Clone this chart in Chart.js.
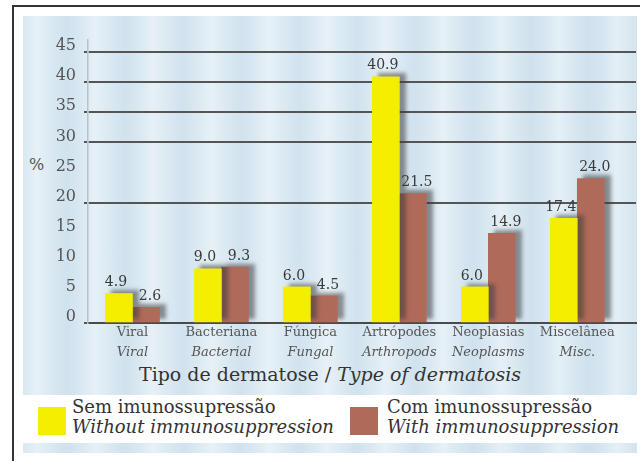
<!DOCTYPE html>
<html>
<head>
<meta charset="utf-8">
<script src="https://cdn.jsdelivr.net/npm/chart.js@4.4.1/dist/chart.umd.min.js"></script>
<style>
  html, body { margin: 0; padding: 0; background: #fff; }
  #frame { position: relative; width: 640px; height: 461px; overflow: hidden; background: #fff;
           font-family: 'DejaVu Serif', serif; }
  #rule { position: absolute; left: 12px; top: 5px; width: 640px; height: 470px;
          border-left: 2px solid #333; border-top: 2px solid #333; }
  #panel { position: absolute; left: 23px; top: 16px; width: 614px; height: 437px;
           background:
             repeating-linear-gradient(90deg,
               rgba(255,255,255,0.00) 0px, rgba(255,255,255,0.35) 14px,
               rgba(255,255,255,0.00) 30px, rgba(190,215,232,0.35) 44px,
               rgba(255,255,255,0.00) 58px),
             linear-gradient(90deg, #d9e8f1, #dbe9f2 50%, #d6e6f0);
  }
  #legend { position: absolute; left: 23px; top: 395px; width: 614px; height: 48px; background: #fff; }
  .swatch { position: absolute; top: 12px; width: 28px; height: 28px; }
  .ltext { position: absolute; top: 2px; font-size: 18px; line-height: 20px; color: #333; white-space: nowrap; }
  .ltext i { display: block; }
  #xtitle { position: absolute; left: 0; width: 660px; top: 363px; text-align: center;
            font-size: 19px; color: #333; white-space: nowrap; }
  #ytitle { position: absolute; left: 29px; top: 155px; font-size: 16px; color: #555; }
  canvas { position: absolute; left: 0; top: 0; }
</style>
</head>
<body>
<div id="frame">
  <div id="rule"></div>
  <div id="panel"></div>
  <div id="legend">
    <div class="swatch" style="left:15px;background:#f4ef00"></div>
    <div class="ltext" style="left:49px">Sem imunossupressão<i>Without immunosuppression</i></div>
    <div class="swatch" style="left:327px;background:#b06a5a"></div>
    <div class="ltext" style="left:364px">Com imunossupressão<i>With immunosuppression</i></div>
  </div>
  <div id="xtitle">Tipo de dermatose / <i>Type of dermatosis</i></div>
  <div id="ytitle">%</div>
  <canvas id="chart" width="640" height="461"></canvas>
</div>
<script>
// Dermatosis categories (Portuguese / English)
const categories = ['Viral', 'Bacteriana', 'Fúngica', 'Artrópodes', 'Neoplasias', 'Miscelânea'];
const categoriesEn = ['Viral', 'Bacterial', 'Fungal', 'Arthropods', 'Neoplasms', 'Misc.'];

// Percentages per group
const semImuno = [4.9, 9.0, 6.0, 40.9, 6.0, 17.4];
const comImuno = [2.6, 9.3, 4.5, 21.5, 14.9, 24.0];

// Y axis ticks and the ones that get a ruled line
const yTicks = [0, 5, 10, 15, 20, 25, 30, 35, 40, 45];
const ruledTicks = [0, 20, 30, 35, 40, 45];

const serif = 'DejaVu Serif';
const yellow = '#f4ef00';
const brown = '#b06a5a';

const toPoints = arr => arr.map((v, i) => ({ x: i, y: v }));
const categoryTicks = s => { s.ticks = categories.map((_, i) => ({ value: i })); };

// Soft drop shadow behind the bars
const barShadow = {
  id: 'barShadow',
  beforeDatasetsDraw(chart) {
    const c = chart.ctx;
    c.save();
    c.shadowColor = 'rgba(60,60,60,0.55)';
    c.shadowBlur = 4;
    c.shadowOffsetX = 6;
    c.shadowOffsetY = -3;
  },
  afterDatasetsDraw(chart) { chart.ctx.restore(); }
};

// Value written above each bar
const valueLabels = {
  id: 'valueLabels',
  afterDatasetsDraw(chart) {
    const c = chart.ctx;
    c.save();
    c.font = '14px "' + serif + '"';
    c.fillStyle = '#3a3a3a';
    c.textAlign = 'center';
    c.textBaseline = 'bottom';
    chart.data.datasets.forEach((ds, di) => {
      const shift = di === 0 ? -3 : 4;
      chart.getDatasetMeta(di).data.forEach((bar, i) => {
        c.fillText(ds.data[i].y.toFixed(1), bar.x + shift, bar.y - 4);
      });
    });
    c.restore();
  }
};

new Chart(document.getElementById('chart'), {
  type: 'bar',
  data: {
    datasets: [
      { label: 'Sem imunossupressão', data: toPoints(semImuno), backgroundColor: yellow, borderWidth: 0, barThickness: 27 },
      { label: 'Com imunossupressão', data: toPoints(comImuno), backgroundColor: brown, borderWidth: 0, barThickness: 27 }
    ]
  },
  options: {
    responsive: false,
    animation: false,
    layout: { padding: { left: 0, top: 40, right: 4, bottom: 98 } },
    plugins: { legend: { display: false }, tooltip: { enabled: false } },
    scales: {
      x: {
        type: 'linear', position: 'bottom', min: -0.5, max: 5.66, offset: false,
        afterBuildTicks: categoryTicks,
        afterFit: s => { s.height = 20; },
        ticks: {
          callback: v => categories[v], autoSkip: false, maxRotation: 0, padding: 2,
          font: { family: serif, size: 13 }, color: '#555'
        },
        grid: { display: false, drawTicks: false },
        border: { color: '#4a4a4a', width: 2 }
      },
      x2: {
        type: 'linear', position: 'bottom', min: -0.5, max: 5.66, offset: false,
        afterBuildTicks: categoryTicks,
        afterFit: s => { s.height = 20; },
        ticks: {
          callback: v => categoriesEn[v], autoSkip: false, maxRotation: 0, padding: 2,
          font: { family: serif, size: 13, style: 'italic' }, color: '#555'
        },
        grid: { display: false, drawTicks: false },
        border: { display: false }
      },
      y: {
        min: 0, max: 47,
        afterBuildTicks: s => { s.ticks = yTicks.map(v => ({ value: v })); },
        afterFit: s => { s.width = 88; },
        ticks: { labelOffset: -6, padding: 8, font: { family: serif, size: 16 }, color: '#555' },
        grid: {
          color: c => ruledTicks.includes(c.tick.value) ? '#555' : 'rgba(0,0,0,0)',
          lineWidth: 2, tickLength: 4
        },
        border: { color: '#b4c3cf', width: 1.5 }
      }
    }
  },
  plugins: [barShadow, valueLabels]
});
</script>
</body>
</html>
